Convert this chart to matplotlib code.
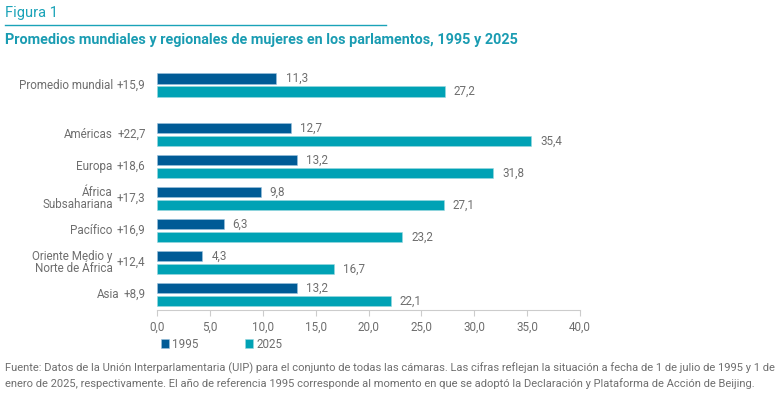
import numpy as np
import matplotlib.pyplot as plt

# data
regions = ["Promedio mundial", "Américas", "Europa", "África\nSubsahariana",
           "Pacífico", "Oriente Medio y\nNorte de África", "Asia"]
v1995 = [11.3, 12.7, 13.2, 9.8, 6.3, 4.3, 13.2]
v2025 = [27.2, 35.4, 31.8, 27.1, 23.2, 16.7, 22.1]
xticks = [0, 5, 10, 15, 20, 25, 30, 35, 40]

C1995 = "#005b96"
C2025 = "#00a2b5"
GREY = "#6e6e6e"
TEAL = "#1aa3b8"

plt.rcParams['font.family'] = ['Roboto', 'DejaVu Sans']


def fmt(v):
    return f"{v:.1f}".replace(".", ",")


fig = plt.figure(figsize=(7.82, 3.96), dpi=100)
ax = fig.add_axes([157 / 782, 1 - 310 / 396, (580 - 157) / 782, 245 / 396])

# extra gap after the world average
pos = np.array([0] + [1.547 + i for i in range(len(regions) - 1)])
h = 0.33
off = 0.2

b1 = ax.barh(pos - off, v1995, height=h, color=C1995, edgecolor="#9cc3dc", linewidth=0.4)
b2 = ax.barh(pos + off, v2025, height=h, color=C2025, edgecolor="#9ad8e0", linewidth=0.4)

for bars, vals in ((b1, v1995), (b2, v2025)):
    for rect, v in zip(bars, vals):
        ax.annotate(fmt(v), xy=(v, rect.get_y() + rect.get_height() / 2),
                    xytext=(6.5, 0), textcoords="offset points",
                    ha="left", va="center", fontsize=8.4, color=GREY)

ax.set_xlim(0, 40)
ax.set_ylim(pos[-1] + 0.484, -0.625)
ax.set_xticks(xticks)
ax.set_xticklabels([fmt(x) for x in xticks], fontsize=8.4, color=GREY)
ax.tick_params(axis="x", length=4, color="#cccccc", pad=4)
ax.set_yticks([])
for s in ("top", "right", "left"):
    ax.spines[s].set_visible(False)
ax.spines["bottom"].set_color("#cccccc")

# category labels: difference right-aligned, name to its left
for p, name, a, b in zip(pos, regions, v1995, v2025):
    diff = ax.text(-0.027, p, f"+{fmt(b - a)}", transform=ax.get_yaxis_transform(),
                   ha="right", va="center", fontsize=8.4, color=GREY)
    ax.annotate(name, xy=(0, 0.5), xycoords=diff, xytext=(-3, 0),
                textcoords="offset points", ha="right", va="center",
                multialignment="right", fontsize=8.4, color=GREY, linespacing=0.95)

# header
fig.text(5 / 782, 1 - 13 / 396, "Figura 1", fontsize=10.5, color=TEAL,
         va="center", ha="left")
fig.add_artist(plt.Line2D([5 / 782, 386 / 782], [1 - 25 / 396] * 2,
                          color=TEAL, linewidth=1))
fig.text(5 / 782, 1 - 40 / 396,
         "Promedios mundiales y regionales de mujeres en los parlamentos, 1995 y 2025",
         fontsize=10.4, color="#1a9cb2", fontweight="bold", va="center", ha="left")

fig.legend([b1, b2], ["1995", "2025"], loc="center left",
           bbox_to_anchor=(150 / 782, 1 - 344 / 396), ncol=2, frameon=False,
           handlelength=0.7, handleheight=0.7, handletextpad=0.3,
           columnspacing=4.0, fontsize=8.4, labelcolor=GREY)

fig.text(5 / 782, 1 - 375.5 / 396,
         "Fuente: Datos de la Unión Interparlamentaria (UIP) para el conjunto de todas las cámaras. "
         "Las cifras reflejan la situación a fecha de 1 de julio de 1995 y 1 de\n"
         "enero de 2025, respectivamente. El año de referencia 1995 corresponde al momento en que "
         "se adoptó la Declaración y Plataforma de Acción de Beijing.",
         fontsize=8.0, color=GREY, va="center", ha="left", linespacing=1.45)

fig.savefig("out.png", dpi=100)
